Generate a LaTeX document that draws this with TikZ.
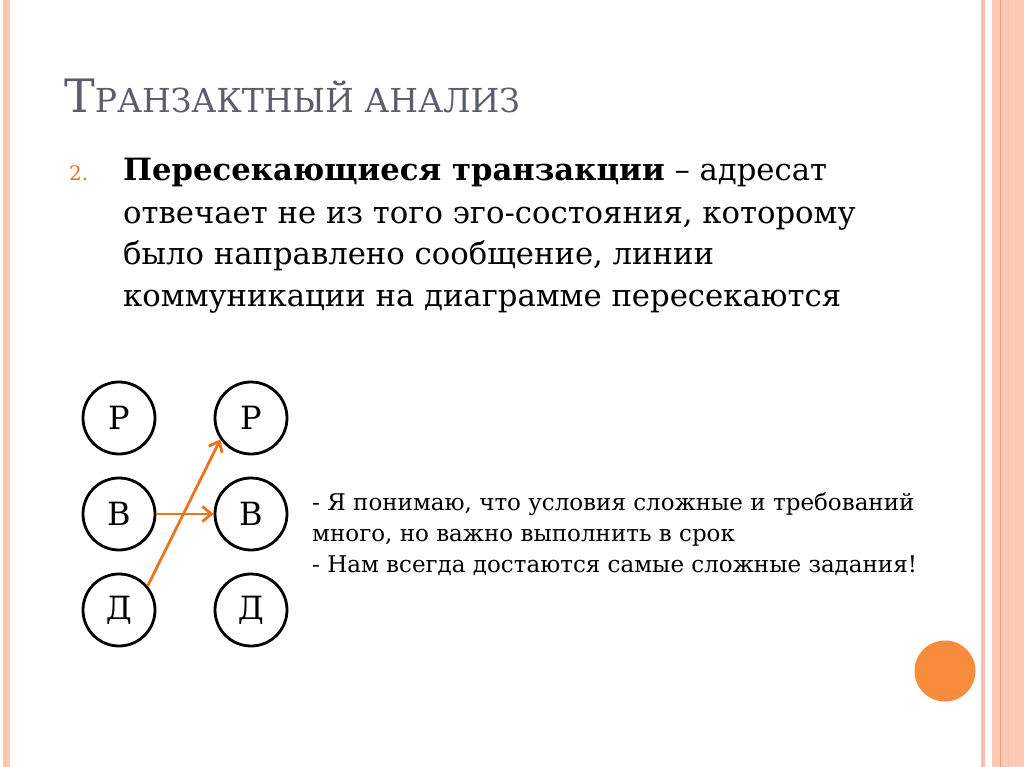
\documentclass[tikz,border=0pt]{standalone}
\usepackage{fontspec}
\setmainfont{DejaVu Serif}
\usetikzlibrary{arrows.meta}
\definecolor{stripe}{HTML}{FCCAB3}
\definecolor{stripeA}{HTML}{F6C0AE}
\definecolor{stripeDark}{HTML}{EE9E7C}
\definecolor{dotorange}{HTML}{F98B3C}
\definecolor{arroworange}{HTML}{EA7420}
\definecolor{titlegray}{HTML}{5A5E6B}
\tikzset{
  state/.style={circle,draw=black,line width=2.8pt,minimum size=72pt,inner sep=0pt,font=\fontsize{32}{32}\selectfont},
  trans/.style={draw=arroworange,line width=2.8pt,-{Straight Barb[length=9pt,width=15pt,line width=2.8pt]}},
  bodyline/.style={anchor=base west,inner sep=0pt,font=\fontsize{30.7}{36}\selectfont},
  sideline/.style={anchor=base west,inner sep=0pt,font=\fontsize{23}{27}\selectfont},
}
\begin{document}
\begin{tikzpicture}[x=1pt,y=-1pt]
\useasboundingbox (0,0) rectangle (1024,767);
\fill[white] (0,0) rectangle (1024,767);
% left border stripe
\fill[stripe] (3,0) rectangle (9.5,767);
\fill[stripeA] (5,0) rectangle (7,767);
% right border stripes
\fill[stripeA] (981,0) rectangle (985,767);
\fill[stripe] (992,0) rectangle (1024,767);
\fill[stripeDark] (999.5,0) rectangle (1001,767);
\fill[stripeA] (1008,0) rectangle (1009,767);
% orange dot
\fill[dotorange] (945,671) circle (30.5);
% title
\node[anchor=base west,inner sep=0pt,text=titlegray] (title) at (64,113)
  {\fontsize{46}{46}\selectfont Т\fontsize{33}{33}\selectfont РАНЗАКТНЫЙ АНАЛИЗ};
% bullet and body text
\node[anchor=base west,inner sep=0pt,text=arroworange,font=\fontsize{20}{20}\selectfont] (num) at (69,181) {2.};
\node[bodyline] (l1) at (123,181) {\textbf{Пересекающиеся транзакции} – адресат};
\node[bodyline] (l2) at (123,223) {отвечает не из того эго-состояния, которому};
\node[bodyline] (l3) at (123,264) {было направлено сообщение, линии};
\node[bodyline] (l4) at (123,306) {коммуникации на диаграмме пересекаются};
% ego states
\node[state] (p1) at (119,418) {Р};
\node[state] (v1) at (119,514) {В};
\node[state] (d1) at (119,610) {Д};
\node[state] (p2) at (251,418) {Р};
\node[state] (v2) at (251,514) {В};
\node[state] (d2) at (251,610) {Д};
% transactions
\draw[trans] (v1.east) -- (v2.west);
\draw[trans] (d1.40) -- (p2.215);
% dialogue
\node[sideline] (s1) at (312,510) {- Я понимаю, что условия сложные и требований};
\node[sideline] (s2) at (312,541) {много, но важно выполнить в срок};
\node[sideline] (s3) at (312,572) {- Нам всегда достаются самые сложные задания!};
\end{tikzpicture}
\end{document}
